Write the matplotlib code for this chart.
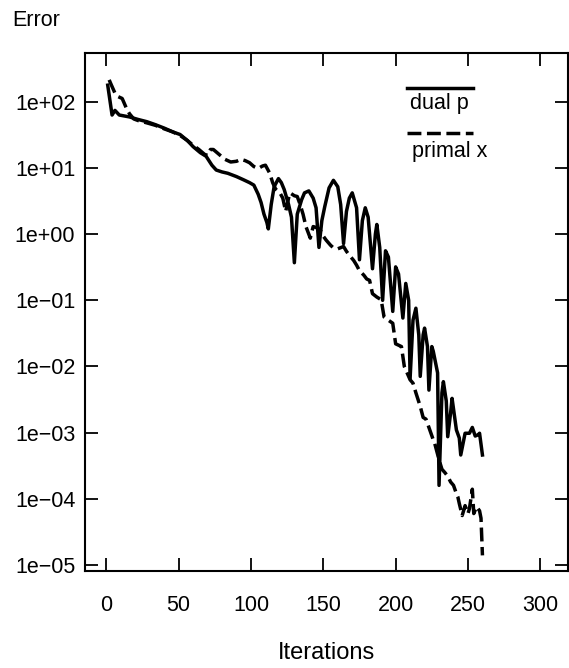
import matplotlib
matplotlib.use("Agg")
import matplotlib.pyplot as plt
from matplotlib.ticker import FixedLocator, FuncFormatter, NullLocator

plt.rcParams['font.family'] = ['Liberation Sans', 'DejaVu Sans']
plt.rcParams['lines.scale_dashes'] = False

# ---- data ----
dual_iter = [1, 4, 6, 9, 16, 22, 28, 34, 40, 46, 51, 56, 60, 65, 69, 73, 76, 80, 84, 90,
             95, 99, 102, 105, 107, 109, 111, 112, 114, 116, 119, 121, 123, 126, 128, 130,
             132, 135, 137, 140, 143, 145, 147, 149, 151, 154, 157, 160, 162, 164, 166, 168,
             170, 173, 175, 177, 179, 181, 184, 186, 187, 189, 191, 193, 195, 198, 200, 202,
             205, 207, 209, 210, 212, 214, 216, 217, 219, 220, 222, 223, 225, 226, 229, 230,
             232, 233, 235, 236, 238, 239, 242, 244, 245, 248, 251, 253, 255, 257, 258, 260]
dual_p = [178, 63, 74, 63, 59, 54, 50, 45, 40, 35, 32, 26, 21, 17, 15, 11, 9.3, 8.7, 8.3, 7.4,
          6.6, 6.0, 5.5, 4.0, 3.0, 2.0, 1.5, 1.2, 2.8, 5.2, 6.9, 6.0, 4.7, 2.8, 1.8, 0.37,
          2.0, 3.3, 4.2, 4.5, 3.5, 2.5, 0.63, 1.6, 2.6, 5.0, 6.5, 5.2, 2.8, 0.72, 2.2, 3.5,
          4.2, 2.5, 0.41, 1.6, 2.5, 1.8, 0.30, 1.0, 1.4, 0.63, 0.10, 0.56, 0.45, 0.068, 0.32, 0.25,
          0.054, 0.18, 0.10, 0.0066, 0.05, 0.076, 0.03, 0.0071, 0.03, 0.038, 0.02, 0.0044, 0.02, 0.017, 0.008, 0.00016,
          0.004, 0.0059, 0.003, 0.00087, 0.002, 0.0033, 0.0011, 0.00083, 0.00046, 0.00098, 0.00098, 0.0012, 0.00089, 0.00093, 0.00098, 0.00046]

primal_iter = [2, 3, 6, 8, 11, 14, 16, 19, 22, 28, 34, 40, 46, 51, 56, 60, 64, 68, 70, 72,
               74, 78, 82, 86, 90, 93, 96, 99, 102, 105, 108, 110, 113, 115, 117, 120, 122, 124,
               126, 127, 130, 132, 134, 136, 138, 141, 143, 145, 148, 150, 152, 155, 157, 160,
               164, 166, 168, 171, 173, 175, 178, 180, 182, 184, 187, 190, 192, 195, 198, 200,
               202, 204, 206, 210, 212, 214, 217, 219, 221, 223, 226, 227, 230, 232, 234, 236,
               238, 240, 242, 243, 244, 246, 248, 250, 251, 253, 254, 256, 258, 259, 260]
primal_x = [214, 190, 135, 120, 112, 79, 66, 55, 52, 48, 44, 39, 35, 31, 26, 22, 19, 16, 15.5, 19,
            19, 16, 13.5, 12.3, 12.6, 13.5, 12.9, 12.0, 10.5, 9.8, 10.7, 11.0, 8.3, 6.0, 4.8, 4.2, 3.5, 2.2,
            3.5, 4.2, 3.8, 3.7, 2.8, 2.0, 1.3, 0.87, 1.3, 1.26, 1.15, 0.93, 0.81, 0.68, 0.62, 0.60,
            0.65, 0.55, 0.48, 0.40, 0.34, 0.28, 0.24, 0.21, 0.20, 0.126, 0.112, 0.102, 0.056, 0.050, 0.045, 0.022,
            0.021, 0.020, 0.010, 0.0063, 0.0056, 0.0040, 0.0025, 0.0017, 0.0016, 0.0012, 0.00078, 0.00069, 0.00039, 0.00028, 0.00025, 0.00022,
            0.00018, 0.00016, 0.00012, 0.000107, 0.000085, 0.000056, 0.000079, 0.00006, 0.000071, 0.00014, 0.00006, 0.000076, 0.000066, 0.000051, 0.000014]

x_ticks = [0, 50, 100, 150, 200, 250, 300]
y_ticks = [1e2, 1e1, 1e0, 1e-1, 1e-2, 1e-3, 1e-4, 1e-5]
labels = ["dual p", "primal x"]

# ---- figure ----
fig = plt.figure(figsize=(5.69, 6.68), dpi=100)
ax = fig.add_axes([0.1494, 0.1452, 0.848, 0.7754])

LW = 2.5
DASH = (0, (10.0, 4.0))
ax.plot(dual_iter, dual_p, color='black', lw=LW, solid_joinstyle='round')
ax.plot(primal_iter, primal_x, color='black', lw=LW, linestyle=DASH, dash_capstyle='butt')

ax.set_yscale('log')
ax.set_xlim(-14.7, 318.8)
ax.set_ylim(10 ** -5.09, 10 ** 2.736)

ax.xaxis.set_major_locator(FixedLocator(x_ticks))
ax.yaxis.set_major_locator(FixedLocator(y_ticks))
ax.yaxis.set_minor_locator(NullLocator())
ax.yaxis.set_major_formatter(FuncFormatter(lambda v, p: f"{v:.0e}".replace('-', '\u2212')))

ax.tick_params(axis='both', which='major', direction='in', length=9.5, width=1.3,
               top=True, right=True, labelsize=15.5, colors='black')
ax.tick_params(axis='x', pad=17)
ax.tick_params(axis='y', pad=7)
for s in ax.spines.values():
    s.set_linewidth(1.5)

# legend drawn R-style: line above its label
ax.plot([0.667, 0.805], [0.932, 0.932], transform=ax.transAxes, color='black', lw=LW)
ax.text(0.674, 0.903, labels[0], transform=ax.transAxes, fontsize=15.5, va='center', ha='left')
ax.plot([0.667, 0.805], [0.845, 0.845], transform=ax.transAxes, color='black', lw=LW,
        linestyle=DASH, dash_capstyle='butt')
ax.text(0.677, 0.8095, labels[1], transform=ax.transAxes, fontsize=15.5, va='center', ha='left')

fig.text(12 / 569, 1 - 21 / 668, "Error", fontsize=15.5, ha='left', va='center')
fig.text(326 / 569, 1 - 653 / 668, "Iterations", fontsize=17, ha='center', va='center')

fig.savefig("out.png", dpi=100)
